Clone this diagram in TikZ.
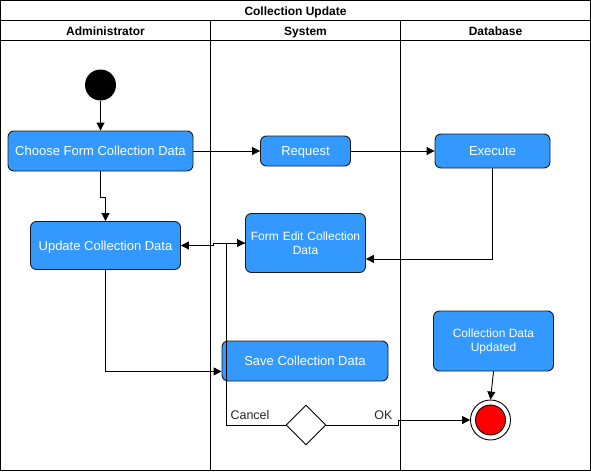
\documentclass[tikz,border=0pt]{standalone}
\usepackage{fontspec}
\setmainfont{Liberation Sans}
\usetikzlibrary{arrows.meta,shapes.geometric,calc}
\definecolor{actblue}{HTML}{3399FF}
\definecolor{actborder}{HTML}{1A1A1A}
\tikzset{
  act/.style={draw=actborder, fill=actblue, rounded corners=6pt, text=white, align=center, font=\fontsize{13}{15}\selectfont, inner sep=1pt, line width=0.9pt},
  actone/.style={act, text height=9.5pt, text depth=0pt},
  actsmall/.style={act, font=\fontsize{12}{14}\selectfont},
  arr/.style={-{Triangle[length=8pt,width=8pt]}, line width=0.9pt},
  lane/.style={line width=0.9pt},
  hdr/.style={font=\bfseries\fontsize{12}{14}\selectfont, text height=9pt, text depth=0pt, inner sep=0pt},
  lbl/.style={font=\fontsize{12.5}{14}\selectfont, text=black!85, text height=9pt, text depth=0pt, inner sep=0pt}
}
\begin{document}
\begin{tikzpicture}[x=1pt,y=-1pt]
\useasboundingbox (0,0) rectangle (591,471);
% frame and lanes
\draw[lane] (0.5,0.5) rectangle (590.5,470.5);
\draw[lane] (0.5,20.5) -- (590.5,20.5);
\draw[lane] (0.5,40.5) -- (590.5,40.5);
\draw[lane] (210.5,20.5) -- (210.5,470.5);
\draw[lane] (400.5,20.5) -- (400.5,470.5);
\node[hdr] (title) at (295.5,11) {Collection Update};
\node[hdr] (hadmin) at (105.5,31) {Administrator};
\node[hdr] (hsys) at (305.5,31) {System};
\node[hdr] (hdb) at (495.5,31) {Database};
% nodes
\node[circle, fill=black, minimum size=31pt, inner sep=0] (start) at (100.5,85) {};
\node[actone, minimum width=185pt, minimum height=40pt] (choose) at (100.5,151) {Choose Form Collection Data};
\node[actone, minimum width=150pt, minimum height=48pt] (update) at (105.5,245.5) {Update Collection Data};
\node[actone, minimum width=90pt, minimum height=30pt] (request) at (305.5,151) {Request};
\node[actone, minimum width=115pt, minimum height=34pt] (execute) at (492.5,151) {Execute};
\node[actsmall, minimum width=120pt, minimum height=59pt, text width=112pt] (formedit) at (305.5,243) {Form Edit Collection\\Data};
\node[actone, minimum width=166pt, minimum height=40pt] (save) at (305,361) {Save Collection Data};
\node[actsmall, minimum width=120pt, minimum height=60pt] (updated) at (493.5,341) {Collection Data\\Updated};
\node[diamond, draw, fill=white, line width=0.9pt, minimum width=40pt, minimum height=40pt, inner sep=0] (dec) at (306,425) {};
\node[circle, draw, fill=white, line width=0.9pt, minimum size=40pt, inner sep=0] (final) at (490.5,420) {};
\node[circle, draw, fill=red, line width=0.9pt, minimum size=30pt, inner sep=0] (finalin) at (final.center) {};
\node[lbl] (lcancel) at (250,414.5) {Cancel};
\node[lbl] (lok) at (383.5,414.5) {OK};
% edges
\draw[arr] (start) -- (choose);
\draw[arr] (choose.south) -- ++(0,26) -| (update.north);
\draw[arr] (choose.east) -- (request.west);
\draw[arr] (request.east) -- (execute.west);
\draw[arr] (execute.south) |- ($(formedit.south east)+(0,-14)$);
\draw[arr] (formedit.west) -- ++(-32,0) |- (update.east);
\draw[arr] (dec.west) -| ($(formedit.west)+(-19,0)$) -- (formedit.west);
\draw[arr] (update.south) |- ($(save.south west)+(0,-10)$);
\draw[arr] (dec.east) -- ++(72,0) |- (final.west);
\draw[arr] (updated.south) -- (final.north);
\end{tikzpicture}
\end{document}
